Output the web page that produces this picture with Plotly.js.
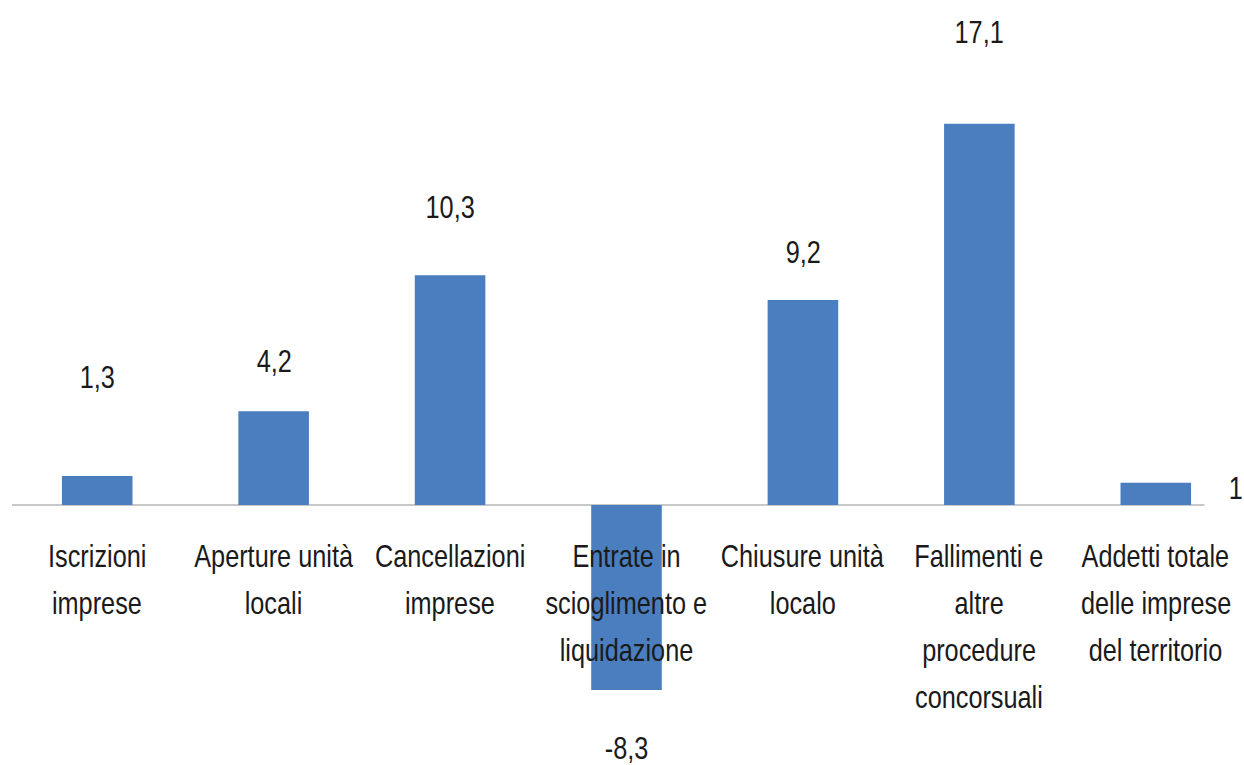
<!DOCTYPE html>
<html>
<head>
<meta charset="utf-8">
<script src="https://cdn.plot.ly/plotly-3.0.1.min.js"></script>
<style>
html,body{margin:0;padding:0;background:#fff;}
#chart{width:1244px;height:765px;}
#chart .annotation-text{transform:scaleX(0.79);transform-box:fill-box;transform-origin:center;}
</style>
</head>
<body>
<div id="chart"></div>
<script>
const categories = [
  "Iscrizioni<br>imprese",
  "Aperture unità<br>locali",
  "Cancellazioni<br>imprese",
  "Entrate in<br>scioglimento e<br>liquidazione",
  "Chiusure unità<br>localo",
  "Fallimenti e<br>altre<br>procedure<br>concorsuali",
  "Addetti totale<br>delle imprese<br>del territorio"
];
const values = [1.3, 4.2, 10.3, -8.3, 9.2, 17.1, 1];
const valueLabels = ["1,3", "4,2", "10,3", "-8,3", "9,2", "17,1", "1"];

// label placement (pixels), style only
const labelYShift = [99, 50, 68, -58, 48, 92, -5];
const labelXShift = [0, 0, 0, 0, 0, 0, 80];

const FONT = "'Liberation Sans', Arial, sans-serif";
const TXT = "#1a1a1a";
const annotations = [];
values.forEach((v, i) => {
  annotations.push({
    x: i, y: v, xref: 'x', yref: 'y', text: valueLabels[i], showarrow: false,
    xanchor: 'center', yanchor: 'middle', xshift: labelXShift[i], yshift: labelYShift[i],
    font: {family: FONT, size: 32, color: TXT}
  });
});
categories.forEach((c, i) => {
  c.split('<br>').forEach((line, j) => {
    annotations.push({
      x: i, y: 0, xref: 'x', yref: 'y', text: line, showarrow: false,
      xanchor: 'center', yanchor: 'middle', yshift: -51 - 47 * j,
      font: {family: FONT, size: 32, color: TXT}
    });
  });
});

const trace = {
  type: 'bar',
  x: categories.map((c, i) => i),
  y: values,
  width: 0.4,
  marker: {color: '#4a7ebf'},
  hoverinfo: 'none'
};

const layout = {
  width: 1244, height: 765,
  margin: {l: 9, r: 0, t: 0, b: 0},
  paper_bgcolor: '#ffffff', plot_bgcolor: '#ffffff',
  showlegend: false,
  xaxis: {range: [-0.5, 6.5], showticklabels: false, showgrid: false, zeroline: false, showline: false, ticks: ''},
  yaxis: {range: [-11.66, 22.65], showticklabels: false, showgrid: false, zeroline: false, showline: false, ticks: ''},
  shapes: [{
    type: 'line', xref: 'paper', yref: 'y', x0: 0.0025, x1: 0.968, y0: 0, y1: 0,
    line: {color: '#c8c8c8', width: 2}, layer: 'below'
  }],
  annotations: annotations
};

Plotly.newPlot('chart', [trace], layout, {staticPlot: true, displayModeBar: false});
</script>
</body>
</html>
